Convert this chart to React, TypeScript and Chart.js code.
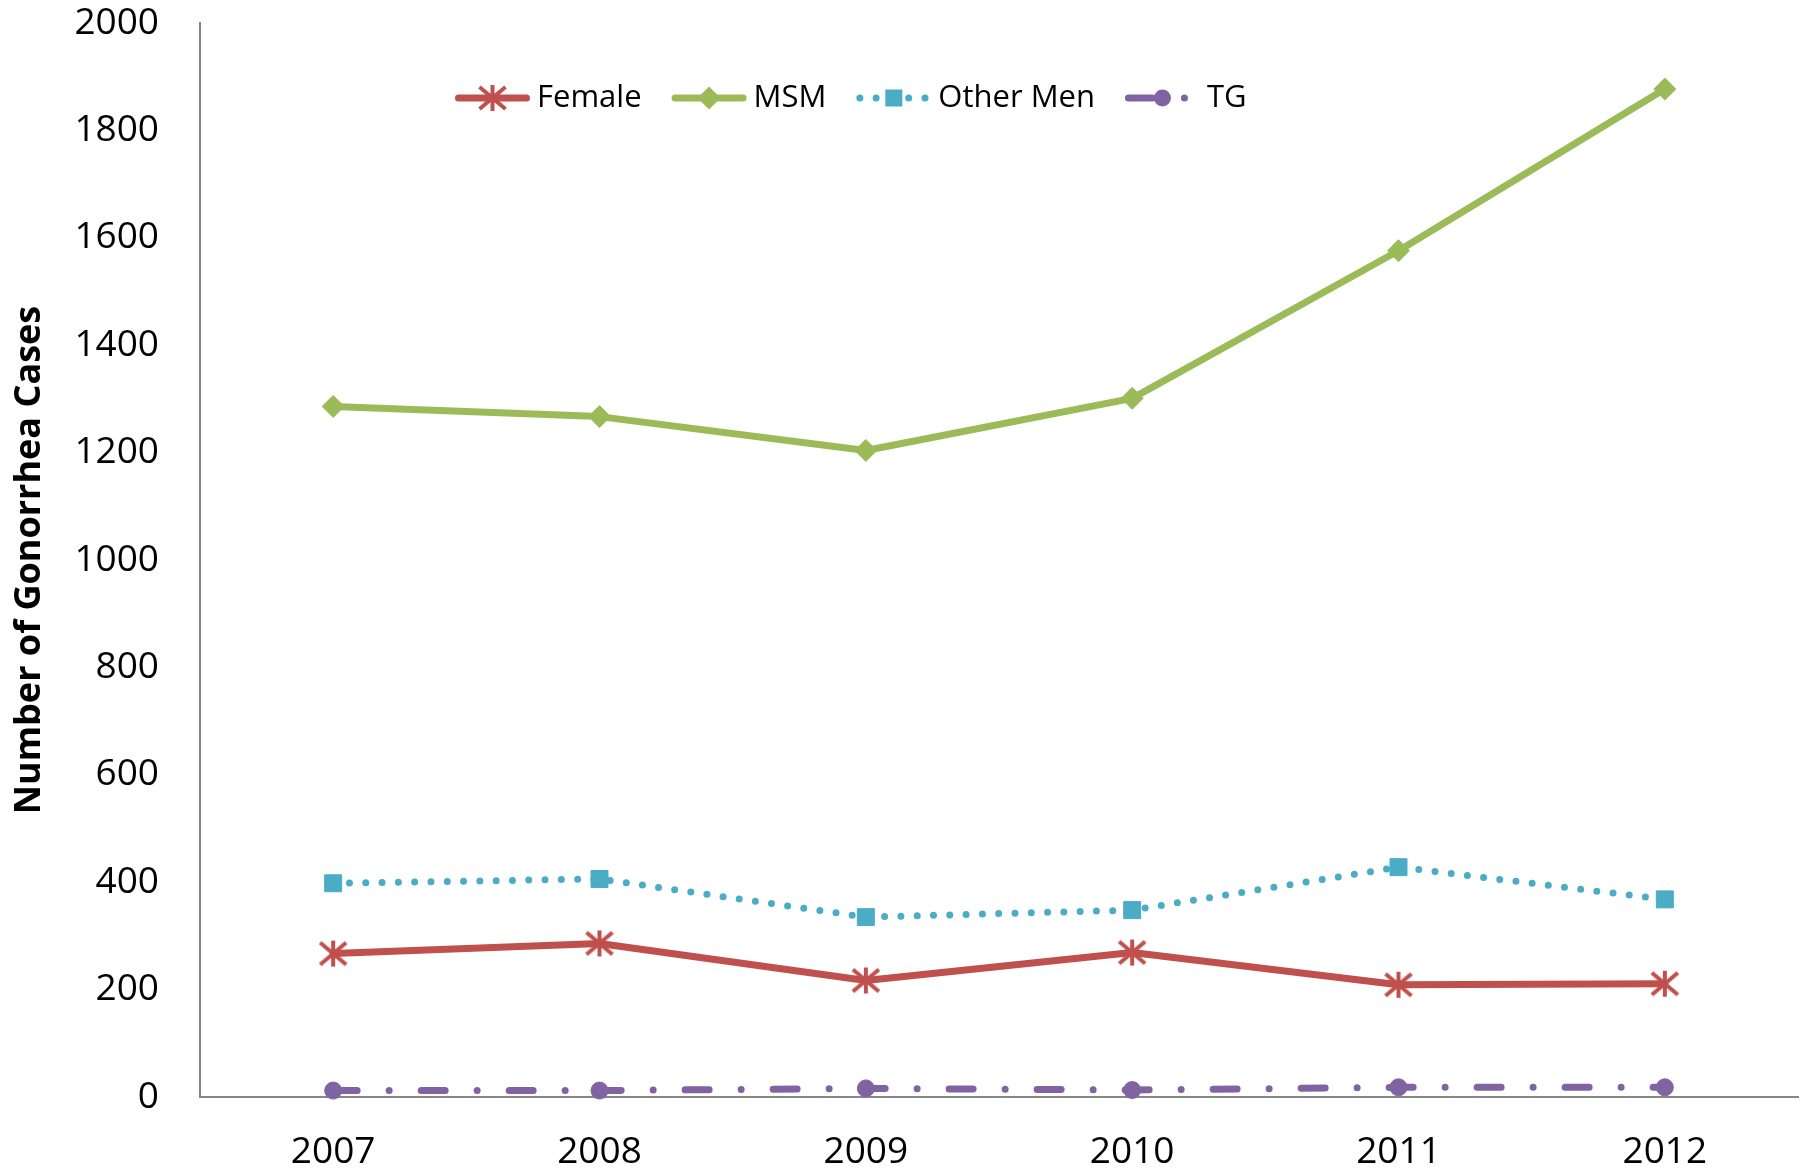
import React, { useEffect, useRef } from 'react';
import { Chart, registerables } from 'chart.js';

Chart.register(...registerables);

// ---- data ----
const years = ['2007', '2008', '2009', '2010', '2011', '2012'];
const femaleCases = [267, 286, 217, 269, 209, 211];
const msmCases = [1286, 1267, 1204, 1301, 1576, 1877];
const otherMenCases = [398, 406, 335, 348, 428, 368];
const tgCases = [12, 12, 16, 13, 18, 18];
const seriesNames = ['Female', 'MSM', 'Other Men', 'TG'];
const yAxisTitle = 'Number of Gonorrhea Cases';
const yMin = 0;
const yMax = 2000;
const yStep = 200;

// ---- styles ----
const RED = '#C0504D';
const GREEN = '#9BBB59';
const BLUE = '#4BACC6';
const PURPLE = '#8064A2';
const AXIS = '#878787';
const FONT = '"Open Sans", "Noto Sans", sans-serif';

type MarkerKind = 'star' | 'diamond' | 'square' | 'circle';
const markerKinds: MarkerKind[] = ['star', 'diamond', 'square', 'circle'];

function drawMarker(ctx: CanvasRenderingContext2D, kind: MarkerKind, x: number, y: number, color: string) {
  ctx.save();
  ctx.fillStyle = color;
  ctx.strokeStyle = color;
  if (kind === 'star') {
    ctx.lineWidth = 4;
    ctx.lineCap = 'butt';
    ctx.beginPath();
    ctx.moveTo(x - 13, y - 11); ctx.lineTo(x + 13, y + 11);
    ctx.moveTo(x - 13, y + 11); ctx.lineTo(x + 13, y - 11);
    ctx.moveTo(x, y - 13); ctx.lineTo(x, y + 13);
    ctx.stroke();
  } else if (kind === 'diamond') {
    ctx.beginPath();
    ctx.moveTo(x - 11.5, y); ctx.lineTo(x, y - 11.5); ctx.lineTo(x + 11.5, y); ctx.lineTo(x, y + 11.5);
    ctx.closePath();
    ctx.fill();
  } else if (kind === 'square') {
    ctx.fillRect(x - 8.5, y - 8.5, 17, 17);
  } else {
    ctx.beginPath();
    ctx.arc(x, y, 8.5, 0, Math.PI * 2);
    ctx.fill();
  }
  ctx.restore();
}

function makeMarkerImage(kind: MarkerKind, color: string): HTMLCanvasElement {
  const c = document.createElement('canvas');
  c.width = 32;
  c.height = 32;
  const ctx = c.getContext('2d')!;
  drawMarker(ctx, kind, 16, 16, color);
  return c;
}

const legendPlugin = {
  id: 'excelLegend',
  afterDatasetsDraw(chart: any) {
    const ctx: CanvasRenderingContext2D = chart.ctx;
    const y = 98;
    const iconW = 75;
    let x = 455;
    ctx.save();
    ctx.font = `31px ${FONT}`;
    ctx.textBaseline = 'middle';
    ctx.textAlign = 'left';
    chart.data.datasets.forEach((ds: any, i: number) => {
      ctx.save();
      ctx.strokeStyle = ds.borderColor;
      ctx.lineWidth = ds.borderWidth;
      ctx.lineCap = 'round';
      ctx.setLineDash(ds.borderDash || []);
      ctx.beginPath();
      ctx.moveTo(x + 3.5, y);
      ctx.lineTo(x + iconW - 3.5, y);
      ctx.stroke();
      ctx.restore();
      drawMarker(ctx, markerKinds[i], x + iconW / 2, y, ds.borderColor);
      ctx.fillStyle = '#000';
      ctx.fillText(ds.label, x + iconW + 7, y);
      x += iconW + 7 + ctx.measureText(ds.label).width + 30;
    });
    ctx.restore();
  },
};

export default function App() {
  const canvasRef = useRef<HTMLCanvasElement | null>(null);

  useEffect(() => {
    const canvas = canvasRef.current;
    if (!canvas) return;
    const starImg = makeMarkerImage('star', RED);

    const common = {
      fill: false,
      tension: 0,
      borderWidth: 7,
      borderCapStyle: 'round' as const,
      borderJoinStyle: 'round' as const,
      clip: false as const,
    };

    const chart = new Chart(canvas, {
      type: 'line',
      data: {
        labels: years,
        datasets: [
          {
            ...common,
            label: seriesNames[0],
            data: femaleCases,
            borderColor: RED,
            backgroundColor: RED,
            pointStyle: starImg,
            pointRadius: 13,
          },
          {
            ...common,
            label: seriesNames[1],
            data: msmCases,
            borderColor: GREEN,
            backgroundColor: GREEN,
            pointStyle: 'rectRot',
            pointRadius: 11,
            pointBorderWidth: 1,
            pointBorderColor: GREEN,
          },
          {
            ...common,
            label: seriesNames[2],
            data: otherMenCases,
            borderColor: BLUE,
            backgroundColor: BLUE,
            borderDash: [0, 16.3],
            pointStyle: 'rect',
            pointRadius: 12,
            pointBorderWidth: 1,
            pointBorderColor: BLUE,
          },
          {
            ...common,
            label: seriesNames[3],
            data: tgCases,
            borderColor: PURPLE,
            backgroundColor: PURPLE,
            borderDash: [24, 32, 0, 32],
            pointStyle: 'circle',
            pointRadius: 8.5,
            pointBorderWidth: 1,
            pointBorderColor: PURPLE,
          },
        ],
      },
      options: {
        responsive: false,
        maintainAspectRatio: false,
        animation: false,
        layout: { autoPadding: false, padding: { top: 23, right: 12, left: 0, bottom: 0 } },
        plugins: {
          legend: { display: false },
          tooltip: { enabled: false },
        },
        scales: {
          x: {
            type: 'category',
            offset: true,
            grid: { display: false, drawTicks: false },
            border: { display: true, color: AXIS, width: 2 },
            ticks: {
              color: '#000',
              font: { family: FONT, size: 37 },
              padding: 33,
              maxRotation: 0,
            },
            afterFit: (scale: any) => {
              scale.height = 75;
              scale.paddingLeft = 0;
              scale.paddingRight = 0;
            },
          },
          y: {
            min: yMin,
            max: yMax,
            grid: { display: false, drawTicks: false },
            border: { display: true, color: AXIS, width: 2 },
            ticks: {
              stepSize: yStep,
              color: '#000',
              font: { family: FONT, size: 37 },
              padding: 41,
              callback: (value: any) => String(value),
            },
            title: {
              display: true,
              text: yAxisTitle,
              color: '#000',
              font: { family: FONT, size: 36, weight: 'bold' },
              padding: { top: 8, bottom: 0 },
            },
            afterFit: (scale: any) => {
              scale.width = 200;
              scale.paddingTop = 0;
              scale.paddingBottom = 0;
            },
          },
        },
      },
      plugins: [legendPlugin],
    });

    return () => {
      chart.destroy();
    };
  }, []);

  return (
    <div style={{ position: 'absolute', left: 0, top: 0, width: 1810, height: 1172, background: '#fff' }}>
      <canvas ref={canvasRef} width={1810} height={1172} style={{ width: 1810, height: 1172, display: 'block' }} />
    </div>
  );
}
